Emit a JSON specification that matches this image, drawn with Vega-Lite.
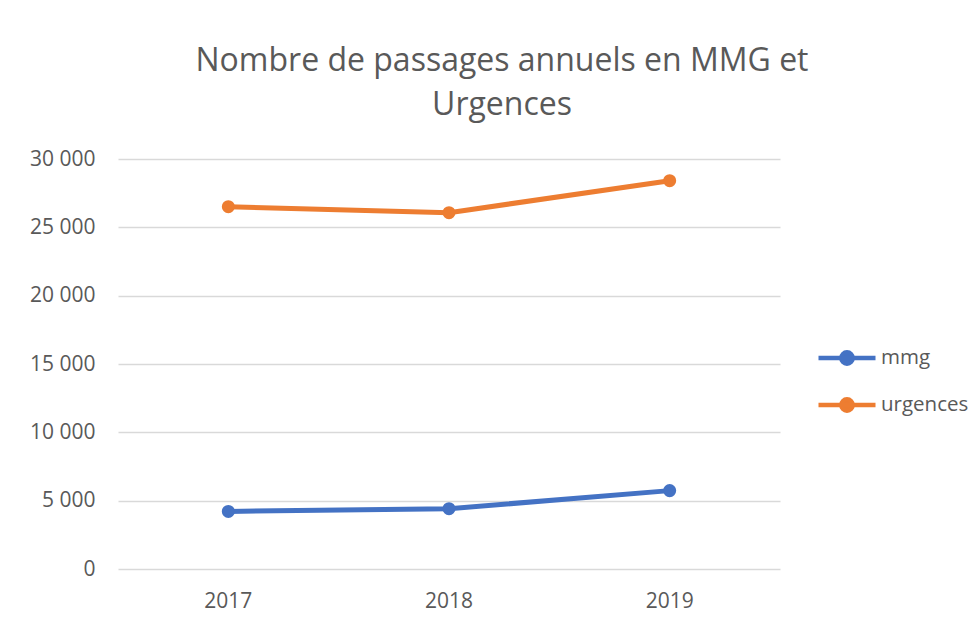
{
  "$schema": "https://vega.github.io/schema/vega-lite/v6.json",
  "autosize": {"type": "none"},
  "width": 662,
  "height": 410,
  "padding": {"left": 118, "top": 159, "right": 200, "bottom": 53},
  "background": "white",
  "title": {
    "text": ["Nombre de passages annuels en MMG et", "Urgences"],
    "font": "Open Sans",
    "fontSize": 32,
    "fontWeight": "normal",
    "color": "#595959",
    "lineHeight": 44,
    "anchor": "middle",
    "dx": 53,
    "offset": 26
  },
  "data": {
    "values": [
      {"annee": "2017", "serie": "mmg", "valeur": 4213},
      {"annee": "2018", "serie": "mmg", "valeur": 4412},
      {"annee": "2019", "serie": "mmg", "valeur": 5735},
      {"annee": "2017", "serie": "urgences", "valeur": 26510},
      {"annee": "2018", "serie": "urgences", "valeur": 26071},
      {"annee": "2019", "serie": "urgences", "valeur": 28412}
    ]
  },
  "mark": {"type": "line", "strokeWidth": 5, "point": {"size": 170, "filled": true, "opacity": 1}},
  "encoding": {
    "x": {
      "field": "annee",
      "type": "ordinal",
      "scale": {"type": "band", "paddingInner": 0, "paddingOuter": 0},
      "axis": {
        "title": null,
        "labelAngle": 0,
        "domain": false,
        "ticks": false,
        "labelPadding": 21,
        "labelFont": "Open Sans",
        "labelFontSize": 21,
        "labelColor": "#595959"
      }
    },
    "y": {
      "field": "valeur",
      "type": "quantitative",
      "scale": {"domain": [0, 30000], "nice": false},
      "axis": {
        "title": null,
        "values": [0, 5000, 10000, 15000, 20000, 25000, 30000],
        "labelExpr": "replace(format(datum.value, ','), ',', ' ')",
        "domain": false,
        "ticks": false,
        "labelPadding": 23,
        "labelFont": "Open Sans",
        "labelFontSize": 21,
        "labelColor": "#595959",
        "gridColor": "#d9d9d9",
        "gridWidth": 1.5
      }
    },
    "color": {
      "field": "serie",
      "type": "nominal",
      "scale": {"domain": ["mmg", "urgences"], "range": ["#4472C4", "#ED7D31"]},
      "legend": {
        "title": null,
        "orient": "none",
        "legendX": 698,
        "legendY": 168,
        "symbolType": "M-1,0H1M-0.2,0A0.2,0.2 0 1,1 0.2,0A0.2,0.2 0 1,1 -0.2,0",
        "symbolSize": 3249,
        "symbolStrokeWidth": 4.5,
        "symbolFillColor": null,
        "labelFont": "Open Sans",
        "labelFontSize": 20.5,
        "labelColor": "#595959",
        "labelOffset": 3,
        "rowPadding": 1
      }
    }
  },
  "config": {"view": {"stroke": null}}
}
